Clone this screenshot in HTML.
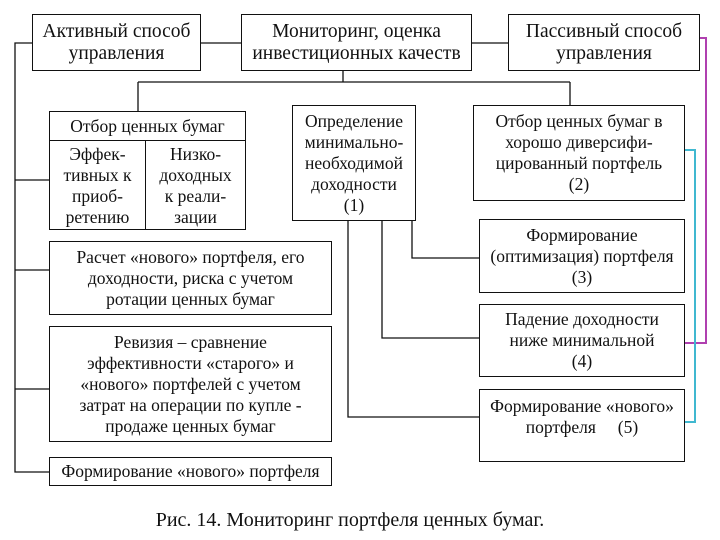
<!DOCTYPE html>
<html><head><meta charset="utf-8"><style>
body{margin:0;width:720px;height:540px;background:#fff;position:relative;overflow:hidden;font-family:"Liberation Serif",serif;color:#111}
.b{position:absolute;border:1.3px solid #111;box-sizing:border-box;display:flex;align-items:center;justify-content:center;text-align:center;font-size:17.5px;line-height:21px;background:#fff;white-space:nowrap}
.l{position:absolute;background:#111}
</style></head><body>
<svg width="720" height="540" style="position:absolute;left:0;top:0">
<g stroke="#111" stroke-width="1.3" fill="none">
<path d="M201 43H241M472 43H508M343 70V82M138 82H570M138 82V111M570 82V105"/>
<path d="M32 43H15V472H49M15 180H49M15 270H49M15 389H49"/>
<path d="M412 220V258H479M382 220V338H479M348 220V417H479"/>
</g>
<path d="M700 38H706V343H684" stroke="#b040b0" stroke-width="2" fill="none"/>
<path d="M684 150H695V422H684" stroke="#40b8d0" stroke-width="2" fill="none"/>
</svg>
<div class="b" style="left:32px;top:14px;width:169px;height:57px;font-size:19.5px;line-height:22px">Активный способ<br>управления</div>
<div class="b" style="left:241px;top:14px;width:231px;height:57px;font-size:19.5px;line-height:22px">Мониторинг, оценка<br>инвестиционных качеств</div>
<div class="b" style="left:508px;top:14px;width:192px;height:57px;font-size:19.5px;line-height:22px">Пассивный способ<br>управления</div>
<div class="b" style="left:49px;top:111px;width:197px;height:119px;display:block">
<div style="height:28px;line-height:28px;border-bottom:1.3px solid #111">Отбор ценных бумаг</div>
<div style="display:flex;height:89px">
<div style="width:95px;border-right:1.3px solid #111;display:flex;align-items:center;justify-content:center">Эффек-<br>тивных к<br>приоб-<br>ретению</div>
<div style="flex:1;display:flex;align-items:center;justify-content:center">Низко-<br>доходных<br>к реали-<br>зации</div>
</div></div>
<div class="b" style="left:292px;top:105px;width:124px;height:116px">Определение<br>минимально-<br>необходимой<br>доходности<br>(1)</div>
<div class="b" style="left:473px;top:105px;width:212px;height:96px">Отбор ценных бумаг в<br>хорошо диверсифи-<br>цированный портфель<br>(2)</div>
<div class="b" style="left:479px;top:219px;width:206px;height:74px">Формирование<br>(оптимизация) портфеля<br>(3)</div>
<div class="b" style="left:479px;top:304px;width:206px;height:73px">Падение доходности<br>ниже минимальной<br>(4)</div>
<div class="b" style="left:479px;top:389px;width:206px;height:73px;align-items:flex-start;padding-top:6px">Формирование «нового»<br>портфеля &nbsp;&nbsp;&nbsp;&nbsp;(5)</div>
<div class="b" style="left:49px;top:241px;width:283px;height:74px">Расчет «нового» портфеля, его<br>доходности, риска с учетом<br>ротации ценных бумаг</div>
<div class="b" style="left:49px;top:326px;width:283px;height:116px">Ревизия – сравнение<br>эффективности «старого» и<br>«нового» портфелей с учетом<br>затрат на операции по купле -<br>продаже ценных бумаг</div>
<div class="b" style="left:49px;top:457px;width:283px;height:29px">Формирование «нового» портфеля</div>
<div style="position:absolute;left:0;width:700px;top:509px;text-align:center;font-size:20px">Рис. 14. Мониторинг портфеля ценных бумаг.</div>
</body></html>
